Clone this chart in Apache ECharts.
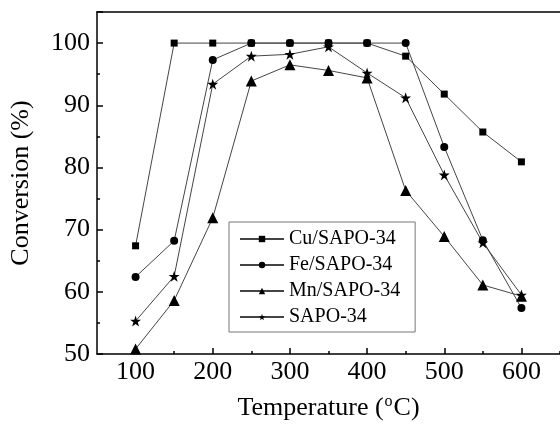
<!DOCTYPE html>
<html><head><meta charset="utf-8">
<script src="https://cdn.jsdelivr.net/npm/echarts@6/dist/echarts.min.js"></script>
<style>html,body{margin:0;padding:0;background:#fff}#c{width:560px;height:426px}</style>
</head><body><div id="c"></div>
<script>
const temps = [100,150,200,250,300,350,400,450,500,550,600];
const cuSapo = [67.4,100,100,100,100,100,100,97.9,91.8,85.7,80.9];
const feSapo = [62.4,68.2,97.3,100,100,100,100,100,83.3,68.3,57.4];
const mnSapo = [50.8,58.6,71.9,93.9,96.5,95.6,94.4,76.3,68.9,61.1,59.3];
const sapo = [55.3,62.5,93.4,97.9,98.2,99.4,95.2,91.2,78.8,67.9,59.5];
const seriesNames = ['Cu/SAPO-34','Fe/SAPO-34','Mn/SAPO-34','SAPO-34'];
const xMajorTicks = [100,200,300,400,500,600];
const xMinorTicks = [150,250,350,450,550,650];
const yTickLabels = [50,60,70,80,90,100];

const FONT = 'Liberation Serif';
const star = 'path://M50,0 L61.8,35.1 L98.9,35.1 L68.8,56.8 L80.9,91.9 L50,70.1 L19.1,91.9 L31.2,56.8 L1.1,35.1 L38.2,35.1 Z';
const symbols = ['rect','circle','triangle',star];
const sizes = [7,8,11,11];
const dataSets = [cuSapo, feSapo, mnSapo, sapo];

const grid = {left:96, top:12, width:466, height:345};
const chart = echarts.init(document.getElementById('c'));
chart.setOption({
  animation:false,
  grid: grid,
  legend: {
    left:229, top:222, orient:'vertical',
    itemWidth:44, itemHeight:8, itemGap:6, itemTextGap:7,
    padding:[7,15,5,10],
    borderColor:'#777', borderWidth:1,
    textStyle:{fontFamily:FONT, fontSize:20, color:'#000'},
    data: seriesNames
  },
  xAxis: [{
    type:'value', min:50, max:650, position:'bottom',
    name:'{t|Temperature (}{sup|o}{t|C)}', nameLocation:'middle', nameGap:40,
    nameTextStyle:{fontFamily:FONT, fontSize:26, color:'#000',
      rich:{
        t:{fontFamily:FONT, fontSize:26, color:'#000', lineHeight:28},
        sup:{fontFamily:FONT, fontSize:16, color:'#000', verticalAlign:'top', lineHeight:14, padding:[0,1,0,1]}
      }},
    axisLine:{lineStyle:{color:'#000', width:1.5}},
    axisTick:{show:true, inside:true, length:6, customValues:xMajorTicks, lineStyle:{color:'#000', width:1.5}},
    axisLabel:{customValues:xMajorTicks, fontFamily:FONT, fontSize:26, color:'#000', margin:5},
    splitLine:{show:false}
  },{
    type:'value', min:50, max:650, position:'bottom',
    axisLine:{show:false},
    axisTick:{show:true, inside:true, length:3, customValues:xMinorTicks, lineStyle:{color:'#000', width:1.5}},
    axisLabel:{show:false},
    splitLine:{show:false}
  },{
    type:'value', min:50, max:650, position:'top',
    axisLine:{show:true, lineStyle:{color:'#000', width:1.5}},
    axisTick:{show:false}, axisLabel:{show:false}, splitLine:{show:false}
  }],
  yAxis: {
    type:'value', min:50, max:105, interval:10,
    name:'Conversion (%)', nameLocation:'middle', nameGap:63, nameRotate:90,
    nameTextStyle:{fontFamily:FONT, fontSize:26, color:'#000'},
    axisLine:{show:true, lineStyle:{color:'#000', width:1.5}},
    axisTick:{show:true, inside:true, length:6, lineStyle:{color:'#000', width:1.5}},
    minorTick:{show:true, splitNumber:2, length:3, lineStyle:{color:'#000', width:1.5}},
    axisLabel:{customValues:yTickLabels, fontFamily:FONT, fontSize:26, color:'#000', margin:7},
    splitLine:{show:false}
  },
  series: seriesNames.map((n,i)=>({
    name:n, type:'line', xAxisIndex:0,
    data: temps.map((t,j)=>[t, dataSets[i][j]]),
    symbol: symbols[i], symbolSize: sizes[i], showAllSymbol:true,
    lineStyle:{color:'#444', width:1},
    itemStyle:{color:'#000'}
  }))
});
</script></body></html>
